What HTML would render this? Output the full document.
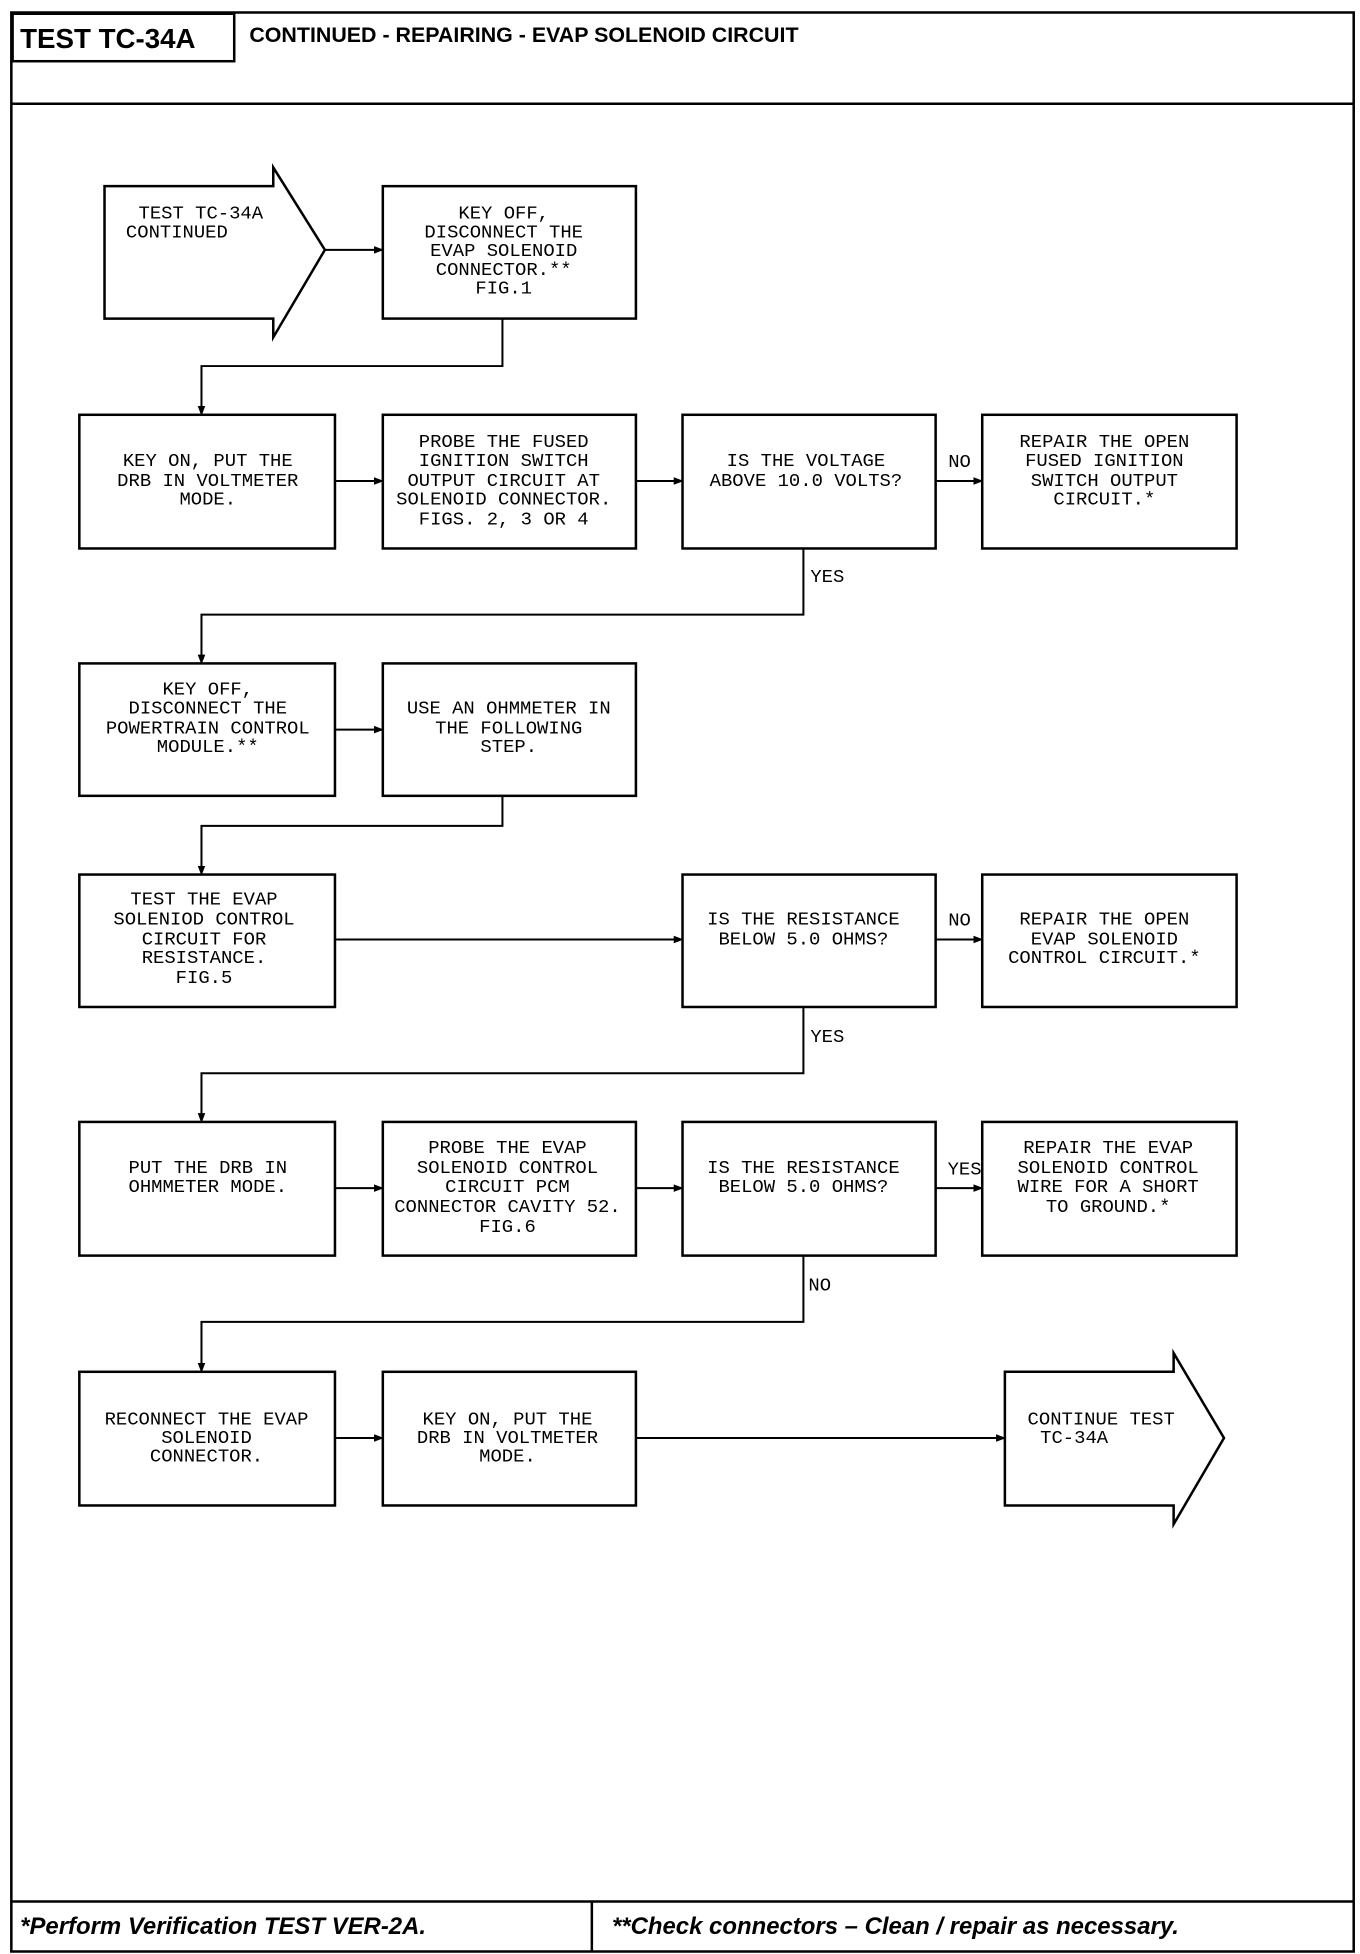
<!DOCTYPE html>
<html><head><meta charset="utf-8"><style>
html,body{margin:0;padding:0;background:#fff;}
svg{display:block;}
.t{font-family:"Liberation Mono",monospace;font-size:15px;fill:#000;text-anchor:middle;dominant-baseline:central;}
.l{text-anchor:start;}
.h{font-family:"Liberation Sans",sans-serif;font-weight:bold;fill:#000;dominant-baseline:central;}
</style></head><body>
<svg width="1360" height="1954" viewBox="0 0 1080 1564" preserveAspectRatio="none" xmlns="http://www.w3.org/2000/svg">
<defs><marker id="a" markerWidth="8" markerHeight="8" refX="7" refY="4" orient="auto" markerUnits="userSpaceOnUse"><path d="M0,1 L8,4 L0,7 z" fill="#000"/></marker></defs>
<g fill="none" stroke="#000" stroke-width="2">
<rect x="9" y="10" width="1066" height="1552"/>
<rect x="10" y="11" width="176" height="38"/>
<line x1="9" y1="83" x2="1075" y2="83"/>
<line x1="9" y1="1522" x2="1075" y2="1522"/>
<line x1="470" y1="1522" x2="470" y2="1562"/>
<polygon points="83,149 217,149 217,134 258,200 217,270 217,255 83,255"/>
<rect x="304" y="149" width="201" height="106"/>
<rect x="63" y="332" width="203" height="107"/>
<rect x="304" y="332" width="201" height="107"/>
<rect x="542" y="332" width="201" height="107"/>
<rect x="780" y="332" width="202" height="107"/>
<rect x="63" y="531" width="203" height="106"/>
<rect x="304" y="531" width="201" height="106"/>
<rect x="63" y="700" width="203" height="106"/>
<rect x="542" y="700" width="201" height="106"/>
<rect x="780" y="700" width="202" height="106"/>
<rect x="63" y="898" width="203" height="107"/>
<rect x="304" y="898" width="201" height="107"/>
<rect x="542" y="898" width="201" height="107"/>
<rect x="780" y="898" width="202" height="107"/>
<rect x="63" y="1098" width="203" height="107"/>
<rect x="304" y="1098" width="201" height="107"/>
<polygon points="798,1098 932,1098 932,1083 972,1151 932,1220 932,1205 798,1205"/>
</g>
<g fill="none" stroke="#000" stroke-width="1.6" marker-end="url(#a)">
<line x1="258" y1="200" x2="304" y2="200"/>
<polyline points="399,255 399,293 160,293 160,332"/>
<line x1="266" y1="385" x2="304" y2="385"/>
<line x1="505" y1="385" x2="542" y2="385"/>
<line x1="743" y1="385" x2="780" y2="385"/>
<polyline points="638,439 638,492 160,492 160,531"/>
<line x1="266" y1="584" x2="304" y2="584"/>
<polyline points="399,637 399,661 160,661 160,700"/>
<line x1="266" y1="752" x2="542" y2="752"/>
<line x1="743" y1="752" x2="780" y2="752"/>
<polyline points="638,806 638,859 160,859 160,898"/>
<line x1="266" y1="951" x2="304" y2="951"/>
<line x1="505" y1="951" x2="542" y2="951"/>
<line x1="743" y1="951" x2="780" y2="951"/>
<polyline points="638,1005 638,1058 160,1058 160,1098"/>
<line x1="266" y1="1151" x2="304" y2="1151"/>
<line x1="505" y1="1151" x2="798" y2="1151"/>
</g>
<text class="h" x="16" y="31" font-size="22">TEST TC-34A</text>
<text class="h" x="198" y="28" font-size="17">CONTINUED - REPAIRING - EVAP SOLENOID CIRCUIT</text>
<text class="h" x="16" y="1542" font-size="19" font-style="italic">*Perform Verification TEST VER-2A.</text>
<text class="h" x="486" y="1542" font-size="19" font-style="italic">**Check connectors – Clean / repair as necessary.</text>
<g class="t">
<text class="t l" x="110" y="171">TEST TC-34A</text>
<text class="t l" x="100" y="186">CONTINUED</text>
<text class="t" x="400" y="171">KEY OFF,</text>
<text class="t" x="400" y="186">DISCONNECT THE</text>
<text class="t" x="400" y="201">EVAP SOLENOID</text>
<text class="t" x="400" y="216">CONNECTOR.**</text>
<text class="t" x="400" y="231">FIG.1</text>
<text class="t" x="165" y="369">KEY ON, PUT THE</text>
<text class="t" x="165" y="385">DRB IN VOLTMETER</text>
<text class="t" x="165" y="400">MODE.</text>
<text class="t" x="400" y="354">PROBE THE FUSED</text>
<text class="t" x="400" y="369">IGNITION SWITCH</text>
<text class="t" x="400" y="385">OUTPUT CIRCUIT AT</text>
<text class="t" x="400" y="400">SOLENOID CONNECTOR.</text>
<text class="t" x="400" y="416">FIGS. 2, 3 OR 4</text>
<text class="t" x="640" y="369">IS THE VOLTAGE</text>
<text class="t" x="640" y="385">ABOVE 10.0 VOLTS?</text>
<text class="t" x="877" y="354">REPAIR THE OPEN</text>
<text class="t" x="877" y="369">FUSED IGNITION</text>
<text class="t" x="877" y="385">SWITCH OUTPUT</text>
<text class="t" x="877" y="400">CIRCUIT.*</text>
<text class="t" x="762" y="370">NO</text>
<text class="t" x="657" y="462">YES</text>
<text class="t" x="165" y="552">KEY OFF,</text>
<text class="t" x="165" y="567">DISCONNECT THE</text>
<text class="t" x="165" y="583">POWERTRAIN CONTROL</text>
<text class="t" x="165" y="598">MODULE.**</text>
<text class="t" x="404" y="567">USE AN OHMMETER IN</text>
<text class="t" x="404" y="583">THE FOLLOWING</text>
<text class="t" x="404" y="598">STEP.</text>
<text class="t" x="162" y="720">TEST THE EVAP</text>
<text class="t" x="162" y="736">SOLENIOD CONTROL</text>
<text class="t" x="162" y="752">CIRCUIT FOR</text>
<text class="t" x="162" y="767">RESISTANCE.</text>
<text class="t" x="162" y="783">FIG.5</text>
<text class="t" x="638" y="736">IS THE RESISTANCE</text>
<text class="t" x="638" y="752">BELOW 5.0 OHMS?</text>
<text class="t" x="877" y="736">REPAIR THE OPEN</text>
<text class="t" x="877" y="752">EVAP SOLENOID</text>
<text class="t" x="877" y="767">CONTROL CIRCUIT.*</text>
<text class="t" x="762" y="737">NO</text>
<text class="t" x="657" y="830">YES</text>
<text class="t" x="165" y="935">PUT THE DRB IN</text>
<text class="t" x="165" y="950">OHMMETER MODE.</text>
<text class="t" x="403" y="919">PROBE THE EVAP</text>
<text class="t" x="403" y="935">SOLENOID CONTROL</text>
<text class="t" x="403" y="950">CIRCUIT PCM</text>
<text class="t" x="403" y="966">CONNECTOR CAVITY 52.</text>
<text class="t" x="403" y="982">FIG.6</text>
<text class="t" x="638" y="935">IS THE RESISTANCE</text>
<text class="t" x="638" y="950">BELOW 5.0 OHMS?</text>
<text class="t" x="880" y="919">REPAIR THE EVAP</text>
<text class="t" x="880" y="935">SOLENOID CONTROL</text>
<text class="t" x="880" y="950">WIRE FOR A SHORT</text>
<text class="t" x="880" y="966">TO GROUND.*</text>
<text class="t" x="766" y="936">YES</text>
<text class="t" x="651" y="1029">NO</text>
<text class="t" x="164" y="1136">RECONNECT THE EVAP</text>
<text class="t" x="164" y="1151">SOLENOID</text>
<text class="t" x="164" y="1166">CONNECTOR.</text>
<text class="t" x="403" y="1136">KEY ON, PUT THE</text>
<text class="t" x="403" y="1151">DRB IN VOLTMETER</text>
<text class="t" x="403" y="1166">MODE.</text>
<text class="t l" x="816" y="1136">CONTINUE TEST</text>
<text class="t l" x="826" y="1151">TC-34A</text>
</g>
</svg>
</body></html>
